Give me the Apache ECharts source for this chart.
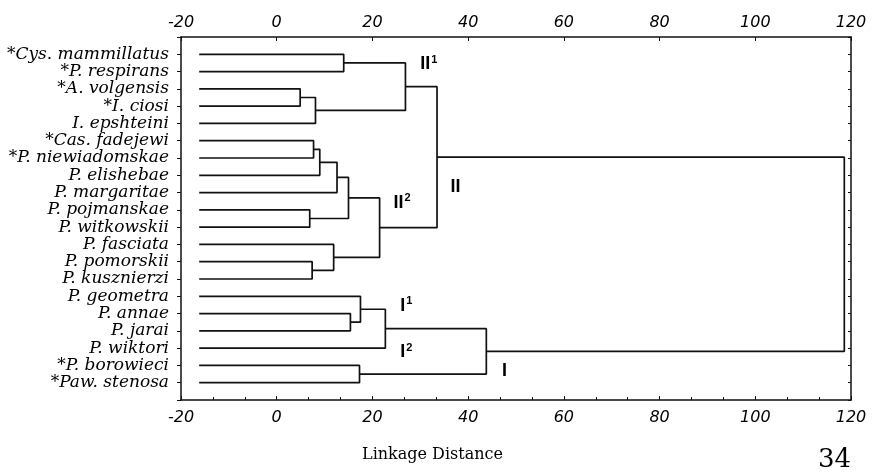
<!DOCTYPE html>
<html>
<head>
<meta charset="utf-8">
<script src="https://cdn.jsdelivr.net/npm/echarts@6/dist/echarts.min.js"></script>
<style>
  html, body { margin: 0; background: #fff; }
  #main { width: 873px; height: 473px; }
</style>
</head>
<body>
<div id="main"></div>
<script>
// leaves, top to bottom
var leaves = [
  '*Cys. mammillatus', '*P. respirans', '*A. volgensis', '*I. ciosi', 'I. epshteini',
  '*Cas. fadejewi', '*P. niewiadomskae', 'P. elishebae', 'P. margaritae', 'P. pojmanskae',
  'P. witkowskii', 'P. fasciata', 'P. pomorskii', 'P. kusznierzi', 'P. geometra',
  'P. annae', 'P. jarai', 'P. wiktori', '*P. borowieci', '*Paw. stenosa'
];
// merges: [child a, child b, linkage distance]; nodes 20.. are the merges in this order
var merges = [
  [2, 3, 4.9], [20, 4, 8.1], [0, 1, 14.0], [22, 21, 26.9],
  [5, 6, 7.7], [24, 7, 9.0], [25, 8, 12.6], [9, 10, 6.9], [26, 27, 15.0],
  [12, 13, 7.4], [11, 29, 11.9], [28, 30, 21.5], [23, 31, 33.5],
  [15, 16, 15.4], [14, 33, 17.5], [34, 17, 22.7], [18, 19, 17.3], [35, 36, 43.8],
  [32, 37, 118.6]
];
var leafStart = -16.2;
var xTicks = [-20, 0, 20, 40, 60, 80, 100, 120];

// cluster names and where they sit (distance, leaf row)
var clusterNames = ['II', 'II', 'II', 'I', 'I', 'I'];
var clusterSup = ['1', '', '2', '1', '2', ''];
var clusterAt = [[30.0, 1.58], [36.3, 8.66], [24.4, 9.58], [25.8, 15.56], [25.8, 18.23], [47.1, 19.33]];

var chart = echarts.init(document.getElementById('main'));

// node positions: leaves at rows 1..20, merges at the midpoint of their children
var nodeX = [], nodeY = [];
leaves.forEach(function (l, i) { nodeX.push(leafStart); nodeY.push(i + 1); });
merges.forEach(function (m) {
  nodeX.push(m[2]);
  nodeY.push((nodeY[m[0]] + nodeY[m[1]]) / 2);
});

var series = merges.map(function (m) {
  var a = m[0], b = m[1], h = m[2];
  return {
    type: 'line',
    silent: true,
    symbol: 'none',
    lineStyle: { color: '#111', width: 1.7 },
    data: [[nodeX[a], nodeY[a]], [h, nodeY[a]], [h, nodeY[b]], [nodeX[b], nodeY[b]]]
  };
});

series.push({
  type: 'scatter',
  silent: true,
  symbolSize: 0,
  itemStyle: { color: '#000', opacity: 1 },
  data: clusterAt.map(function (p, i) { return [p[0], p[1], clusterNames[i], clusterSup[i]]; }),
  label: {
    show: true,
    position: 'right',
    distance: 0,
    color: '#000',
    formatter: function (p) {
      return '{m|' + p.data[2] + '}' + (p.data[3] ? '{s|' + p.data[3] + '}' : '');
    },
    rich: {
      m: { fontFamily: 'Liberation Sans', fontWeight: 'bold', fontSize: 18, color: '#000', lineHeight: 20 },
      s: { fontFamily: 'Liberation Sans', fontWeight: 'bold', fontSize: 11, color: '#000', lineHeight: 11, verticalAlign: 'top', padding: [0, 0, 0, 1] }
    }
  }
});

var numFont = { fontFamily: 'DejaVu Sans', fontStyle: 'italic', fontSize: 16, color: '#000' };
function xAxisCfg(pos) {
  return {
    type: 'value',
    position: pos,
    min: xTicks[0],
    max: xTicks[xTicks.length - 1],
    interval: 20,
    axisLine: { show: true, onZero: false, lineStyle: { color: '#111', width: 1.5 } },
    axisTick: { show: true, inside: true, length: 4, lineStyle: { color: '#111' } },
    minorTick: { show: pos === 'bottom', splitNumber: 3, length: 3, lineStyle: { color: '#111' } },
    axisLabel: Object.assign({ margin: pos === 'top' ? 6 : 10 }, numFont),
    splitLine: { show: false }
  };
}

function yAxisCfg(pos) {
  return {
    type: 'value',
    position: pos,
    inverse: true,
    min: 0,
    max: leaves.length + 1,
    interval: 1,
    axisLine: { show: true, onZero: false, lineStyle: { color: '#111', width: 1.5 } },
    axisTick: { show: true, inside: pos === 'right', length: pos === 'right' ? 3 : 4, lineStyle: { color: '#111' } },
    axisLabel: {
      show: pos === 'left',
      margin: 12,
      fontFamily: 'DejaVu Serif',
      fontStyle: 'italic',
      fontSize: 17,
      color: '#000',
      formatter: function (v) { return leaves[v - 1] || ''; }
    },
    splitLine: { show: false }
  };
}

chart.setOption({
  animation: false,
  backgroundColor: '#fff',
  grid: { left: 181, right: 22, top: 37, bottom: 73 },
  xAxis: [xAxisCfg('bottom'), xAxisCfg('top')],
  yAxis: [yAxisCfg('left'), yAxisCfg('right')],
  graphic: [{
    type: 'text',
    left: 362,
    top: 447,
    style: { text: 'Linkage Distance', fontFamily: 'DejaVu Serif', fontSize: 16, fill: '#000' }
  }, {
    type: 'text',
    left: 818,
    top: 447,
    style: { text: '34', fontFamily: 'DejaVu Serif', fontSize: 26, fill: '#000' }
  }],
  series: series
});
</script>
</body>
</html>
